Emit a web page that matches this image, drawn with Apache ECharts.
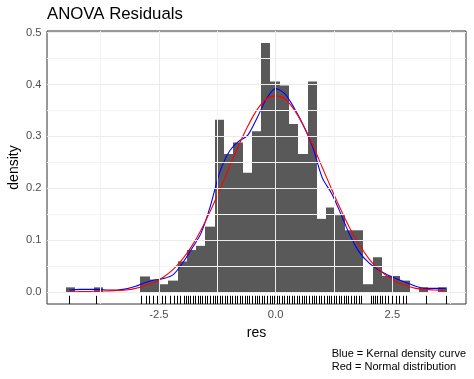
<!DOCTYPE html>
<html><head><meta charset="utf-8">
<script src="https://cdn.jsdelivr.net/npm/echarts@6/dist/echarts.min.js"></script>
<style>html,body{margin:0;padding:0;background:#fff}#c{width:474px;height:379px}</style>
</head><body><div id="c"></div>
<script>
// ---- data ----
const binStart = -4.49;
const binWidth = 0.199;
const binDensity = [0.009,0,0,0.009,0,0,0,0,0.030,0.024,0.015,0.022,0.059,0.081,0.089,0.126,0.332,0.266,0.288,0.230,0.310,0.480,0.406,0.398,0.324,0.266,0.406,0.141,0.163,0.148,0.119,0.119,0.015,0.067,0.031,0.031,0.022,0,0.009,0,0.009];

const curveX = [-4.42,-4.2,-4.0,-3.8,-3.6,-3.4,-3.2,-3.0,-2.8,-2.6,-2.4,-2.2,-2.0,-1.8,-1.6,-1.4,-1.2,-1.0,-0.8,-0.6,-0.4,-0.2,0.0,0.2,0.4,0.6,0.8,1.0,1.2,1.4,1.6,1.8,2.0,2.2,2.4,2.6,2.8,3.0,3.2,3.4,3.64];
const kernelDensity = [0.004,0.005,0.005,0.005,0.004,0.004,0.006,0.011,0.018,0.023,0.026,0.033,0.055,0.083,0.113,0.165,0.230,0.270,0.290,0.302,0.335,0.372,0.392,0.382,0.354,0.320,0.278,0.220,0.190,0.150,0.108,0.076,0.056,0.043,0.033,0.025,0.018,0.011,0.007,0.007,0.007];
const normalDensity = [0.000,0.001,0.001,0.002,0.002,0.003,0.004,0.007,0.012,0.019,0.029,0.043,0.063,0.088,0.119,0.156,0.196,0.239,0.281,0.319,0.351,0.372,0.378,0.372,0.351,0.320,0.282,0.240,0.198,0.158,0.121,0.090,0.064,0.044,0.030,0.019,0.012,0.007,0.005,0.004,0.003];

const rugX = [-4.43,-3.85,-2.88,-2.78,-2.72,-2.63,-2.55,-2.43,-2.36,-2.26,-2.18,-2.11,-2.05,-1.97,-1.92,-1.88,
 -1.83,-1.78,-1.72,-1.67,-1.62,-1.57,-1.51,-1.46,-1.41,-1.35,-1.30,-1.25,-1.19,-1.14,-1.09,-1.04,-0.98,-0.93,-0.88,-0.82,-0.77,-0.72,-0.66,-0.61,-0.56,-0.51,-0.45,-0.40,-0.35,-0.29,-0.24,-0.19,-0.13,-0.08,-0.03,
 0.03,0.08,0.13,0.18,0.24,0.29,0.34,0.40,0.45,0.50,0.56,0.61,0.66,0.72,0.77,0.82,0.87,0.93,0.98,1.03,1.09,1.14,1.19,1.25,1.30,1.35,1.41,1.46,1.51,1.56,1.62,1.67,1.72,1.78,1.83,
 2.04,2.09,2.13,2.18,2.23,2.28,2.34,2.40,2.50,2.57,2.64,2.72,2.80,3.23,3.64];

const xTicks = [-2.5, 0, 2.5];
const xMinorGrid = [-3.75, -1.25, 1.25, 3.75];
const yTicks = [0, 0.1, 0.2, 0.3, 0.4, 0.5];
const yMinorGrid = [0.05, 0.15, 0.25, 0.35, 0.45];
const xMin = -4.898, xMax = 4.078, yMin = -0.0231, yMax = 0.5031;
const rugFrac = 0.03;

const titleText = 'ANOVA Residuals';
const captionText = 'Blue = Kernal density curve\nRed = Normal distribution';
const FONT = '"Liberation Sans", Arial, sans-serif';

// ---- build ----
const bins = binDensity.map((d, i) => [binStart + i * binWidth, binStart + (i + 1) * binWidth, d]);
const gridLines = [];
yTicks.forEach(v => gridLines.push({yAxis: v, lineStyle: {color: '#EBEBEB', width: 1}}));
yMinorGrid.forEach(v => gridLines.push({yAxis: v, lineStyle: {color: '#F4F4F4', width: 1}}));
xTicks.forEach(v => gridLines.push({xAxis: v, lineStyle: {color: '#EBEBEB', width: 1}}));
xMinorGrid.forEach(v => gridLines.push({xAxis: v, lineStyle: {color: '#F4F4F4', width: 1}}));

const chart = echarts.init(document.getElementById('c'), null, {renderer: 'canvas'});
chart.setOption({
  animation: false,
  backgroundColor: '#fff',
  textStyle: {fontFamily: FONT},
  graphic: [
    {type: 'text', left: 47, top: 6, style: {text: titleText, font: '16.8px ' + FONT, fill: '#000'}},
    {type: 'text', right: 8, top: 347, style: {text: captionText, font: '11px ' + FONT, fill: '#000', align: 'right', lineHeight: 13}}
  ],
  grid: {left: 47, right: 8, top: 31, bottom: 75, show: true, borderColor: '#333333', borderWidth: 1, backgroundColor: '#fff', containLabel: false, outerBoundsMode: 'none'},
  xAxis: {
    type: 'value', min: xMin, max: xMax,
    axisLine: {show: false}, splitLine: {show: false},
    axisTick: {show: true, customValues: xTicks, length: 3.5, lineStyle: {color: '#333333'}},
    axisLabel: {customValues: xTicks, formatter: v => v.toFixed(1), color: '#4D4D4D', fontSize: 11.2, margin: 5, fontFamily: FONT},
    name: 'res', nameLocation: 'middle', nameGap: 22, nameMoveOverlap: false,
    nameTextStyle: {fontSize: 14, color: '#000', fontFamily: FONT}
  },
  yAxis: {
    type: 'value', min: yMin, max: yMax,
    axisLine: {show: false}, splitLine: {show: false},
    axisTick: {show: true, customValues: yTicks, length: 3.5, lineStyle: {color: '#333333'}},
    axisLabel: {customValues: yTicks, formatter: v => v.toFixed(1), color: '#4D4D4D', fontSize: 11.2, margin: 5.5, fontFamily: FONT},
    name: 'density', nameLocation: 'middle', nameGap: 26, nameMoveOverlap: false,
    nameTextStyle: {fontSize: 14, color: '#000', fontFamily: FONT}
  },
  series: [
    {type: 'line', data: [], z: 1, silent: true,
     markLine: {silent: true, symbol: ['none', 'none'], label: {show: false}, animation: false,
       lineStyle: {type: 'solid'}, emphasis: {disabled: true}, data: gridLines}},
    {type: 'custom', z: 2, silent: true, data: bins, encode: {x: [0, 1], y: 2},
     renderItem: (params, api) => {
       const d = api.value(2);
       if (!d) return null;
       const a = api.coord([api.value(0), d]);
       const b = api.coord([api.value(1), 0]);
       const l = Math.round(a[0]), r = Math.round(b[0]);
       return {type: 'rect', shape: {x: l, y: a[1], width: r - l, height: b[1] - a[1]}, style: {fill: '#595959'}};
     }},
    {type: 'line', z: 3, silent: true, showSymbol: false, smooth: 0.3,
     data: curveX.map((x, i) => [x, kernelDensity[i]]),
     lineStyle: {color: '#0000FF', width: 1.1}},
    {type: 'line', z: 4, silent: true, showSymbol: false, smooth: 0.3,
     data: curveX.map((x, i) => [x, normalDensity[i]]),
     lineStyle: {color: '#FF0000', width: 1.1}},
    {type: 'custom', z: 5, silent: true, data: rugX.map(v => [v, yMin]), encode: {x: 0, y: 1},
     renderItem: (params, api) => {
       const v = api.value(0);
       const p0 = api.coord([v, yMin]);
       const p1 = api.coord([v, yMin + rugFrac * (yMax - yMin)]);
       const x = Math.round(p0[0]) + 0.5;
       return {type: 'line', shape: {x1: x, y1: p0[1], x2: x, y2: p1[1]}, style: {stroke: '#000', lineWidth: 1}};
     }}
  ]
});
</script>
</body></html>
